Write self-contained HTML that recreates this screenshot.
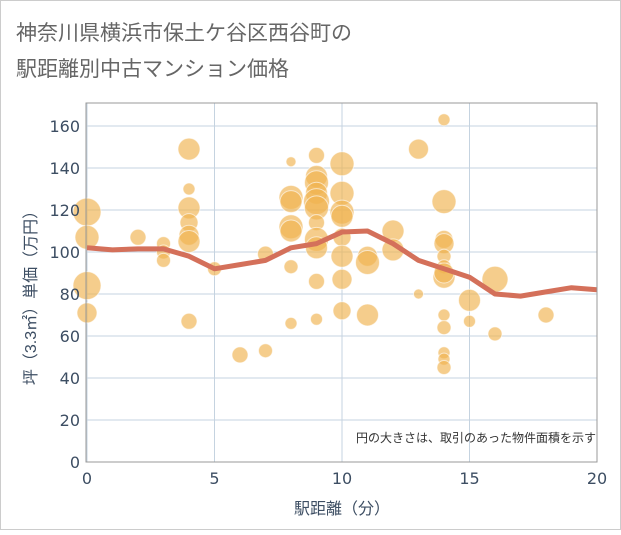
<!DOCTYPE html>
<html><head><meta charset="utf-8"><style>
body{margin:0;background:#fff;}
svg text{font-family:"Liberation Sans","Noto Sans CJK JP",sans-serif;}
svg text.tk{font-family:"DejaVu Sans","Liberation Sans",sans-serif;}
</style></head><body>
<svg width="621" height="530" xmlns="http://www.w3.org/2000/svg">
<rect x="0.5" y="0.5" width="620" height="529" fill="#fff" stroke="#ccc"/>
<text x="16" y="40" font-size="21" fill="#666">神奈川県横浜市保土ケ谷区西谷町の</text>
<text x="16" y="76" font-size="21" fill="#666">駅距離別中古マンション価格</text>
<g id="grid"></g>
<g id="bubbles"></g>
<g id="line"></g>
<g id="axes"></g>
<text x="596" y="442" font-size="12" fill="#333" text-anchor="end">円の大きさは、取引のあった物件面積を示す</text>
<text x="342" y="514" font-size="16" fill="#3d4e63" text-anchor="middle">駅距離（分）</text>
<text transform="translate(36,294) rotate(-90)" font-size="16" fill="#3d4e63" text-anchor="middle">坪（3.3㎡）単価（万円）</text>
</svg>
<script>
const xTicks=[0,5,10,15,20];
const yTicks=[0,20,40,60,80,100,120,140,160];
const lineX=[0,1,2,3,4,5,6,7,8,9,10,11,12,13,14,15,16,17,18,19,20];
const lineY=[102,101,101.5,101.5,98,92,94,96,102,104,109.5,110,104,96,92,88,80,79,81,83,82];
const bubX=[0,0,0,0,2,3,3,3,4,4,4,4,4,4,4,5,6,7,7,8,8,8,8,8,8,8,9,9,9,9,9,9,9,9,9,9,9,10,10,10,10,10,10,10,10,11,11,11,12,12,13,13,14,14,14,14,14,14,14,14,14,14,14,14,14,15,15,16,16,18];
const bubY=[119,107,84,71,107,104,100,96,149,130,121,114,108,105,67,92,51,53,99,143,126,124,112,110,93,66,146,136,133,128,124,121,114,106,102,86,68,142,128,119,117,107,98,87,72,98,95,70,110,101,149,80,163,124,106,104,98,93,88,90,70,64,52,49,45,77,67,87,61,70];
const bubR=[14,12,14,10,8,7,7,7,11,6,11,9,10,11,8,7,8,7,8,5,12,11,12,11,7,6,8,11,12,11,13,12,8,12,11,8,6,12,12,12,11,9,11,10,9,10,12,11,11,11,10,5,6,12,9,10,7,7,11,10,6,7,6,6,7,11,6,13,7,8];
const NS="http://www.w3.org/2000/svg";
const X0=87,X1=597,Y0=462,Y1=126;
const sx=v=>X0+(v-0)/(20-0)*(X1-X0);
const sy=v=>Y0-(v-0)/(160-0)*(Y0-Y1);
function mk(t,a,p){const e=document.createElementNS(NS,t);for(const k in a)e.setAttribute(k,a[k]);p.appendChild(e);return e;}
const grid=document.getElementById('grid'),axes=document.getElementById('axes');
yTicks.forEach(v=>{const l=mk('line',{x1:X0,x2:X1,y1:sy(v),y2:sy(v),stroke:'#c5d3e0','stroke-width':1},grid);


const t=mk('text',{class:'tk',x:X0-7,y:sy(v)+6,'font-size':16,fill:'#3d4e63','text-anchor':'end'},axes);t.textContent=v;

});
xTicks.forEach(v=>{const l=mk('line',{x1:sx(v),x2:sx(v),y1:103,y2:Y0,stroke:'#c5d3e0','stroke-width':1},grid);


const t=mk('text',{class:'tk',x:sx(v),y:484,'font-size':16,fill:'#3d4e63','text-anchor':'middle'},axes);t.textContent=v;

});
const fr=mk('rect',{x:X0-1,y:103,width:X1-X0+1,height:Y0-103,fill:'none',stroke:'#999','stroke-width':1},axes);


const bg=document.getElementById('bubbles');
bubX.forEach((x,i)=>{const c=mk('circle',{cx:sx(x),cy:sy(bubY[i]),r:bubR[i],fill:'rgba(240,178,78,0.65)',stroke:'#fff','stroke-opacity':0.6,'stroke-width':1},bg);

});
const p=mk('polyline',{points:lineX.map((x,i)=>sx(x)+','+sy(lineY[i])).join(' '),fill:'none',stroke:'#d4705a','stroke-width':5,'stroke-linejoin':'round'},document.getElementById('line'));


</script>
</body></html>
